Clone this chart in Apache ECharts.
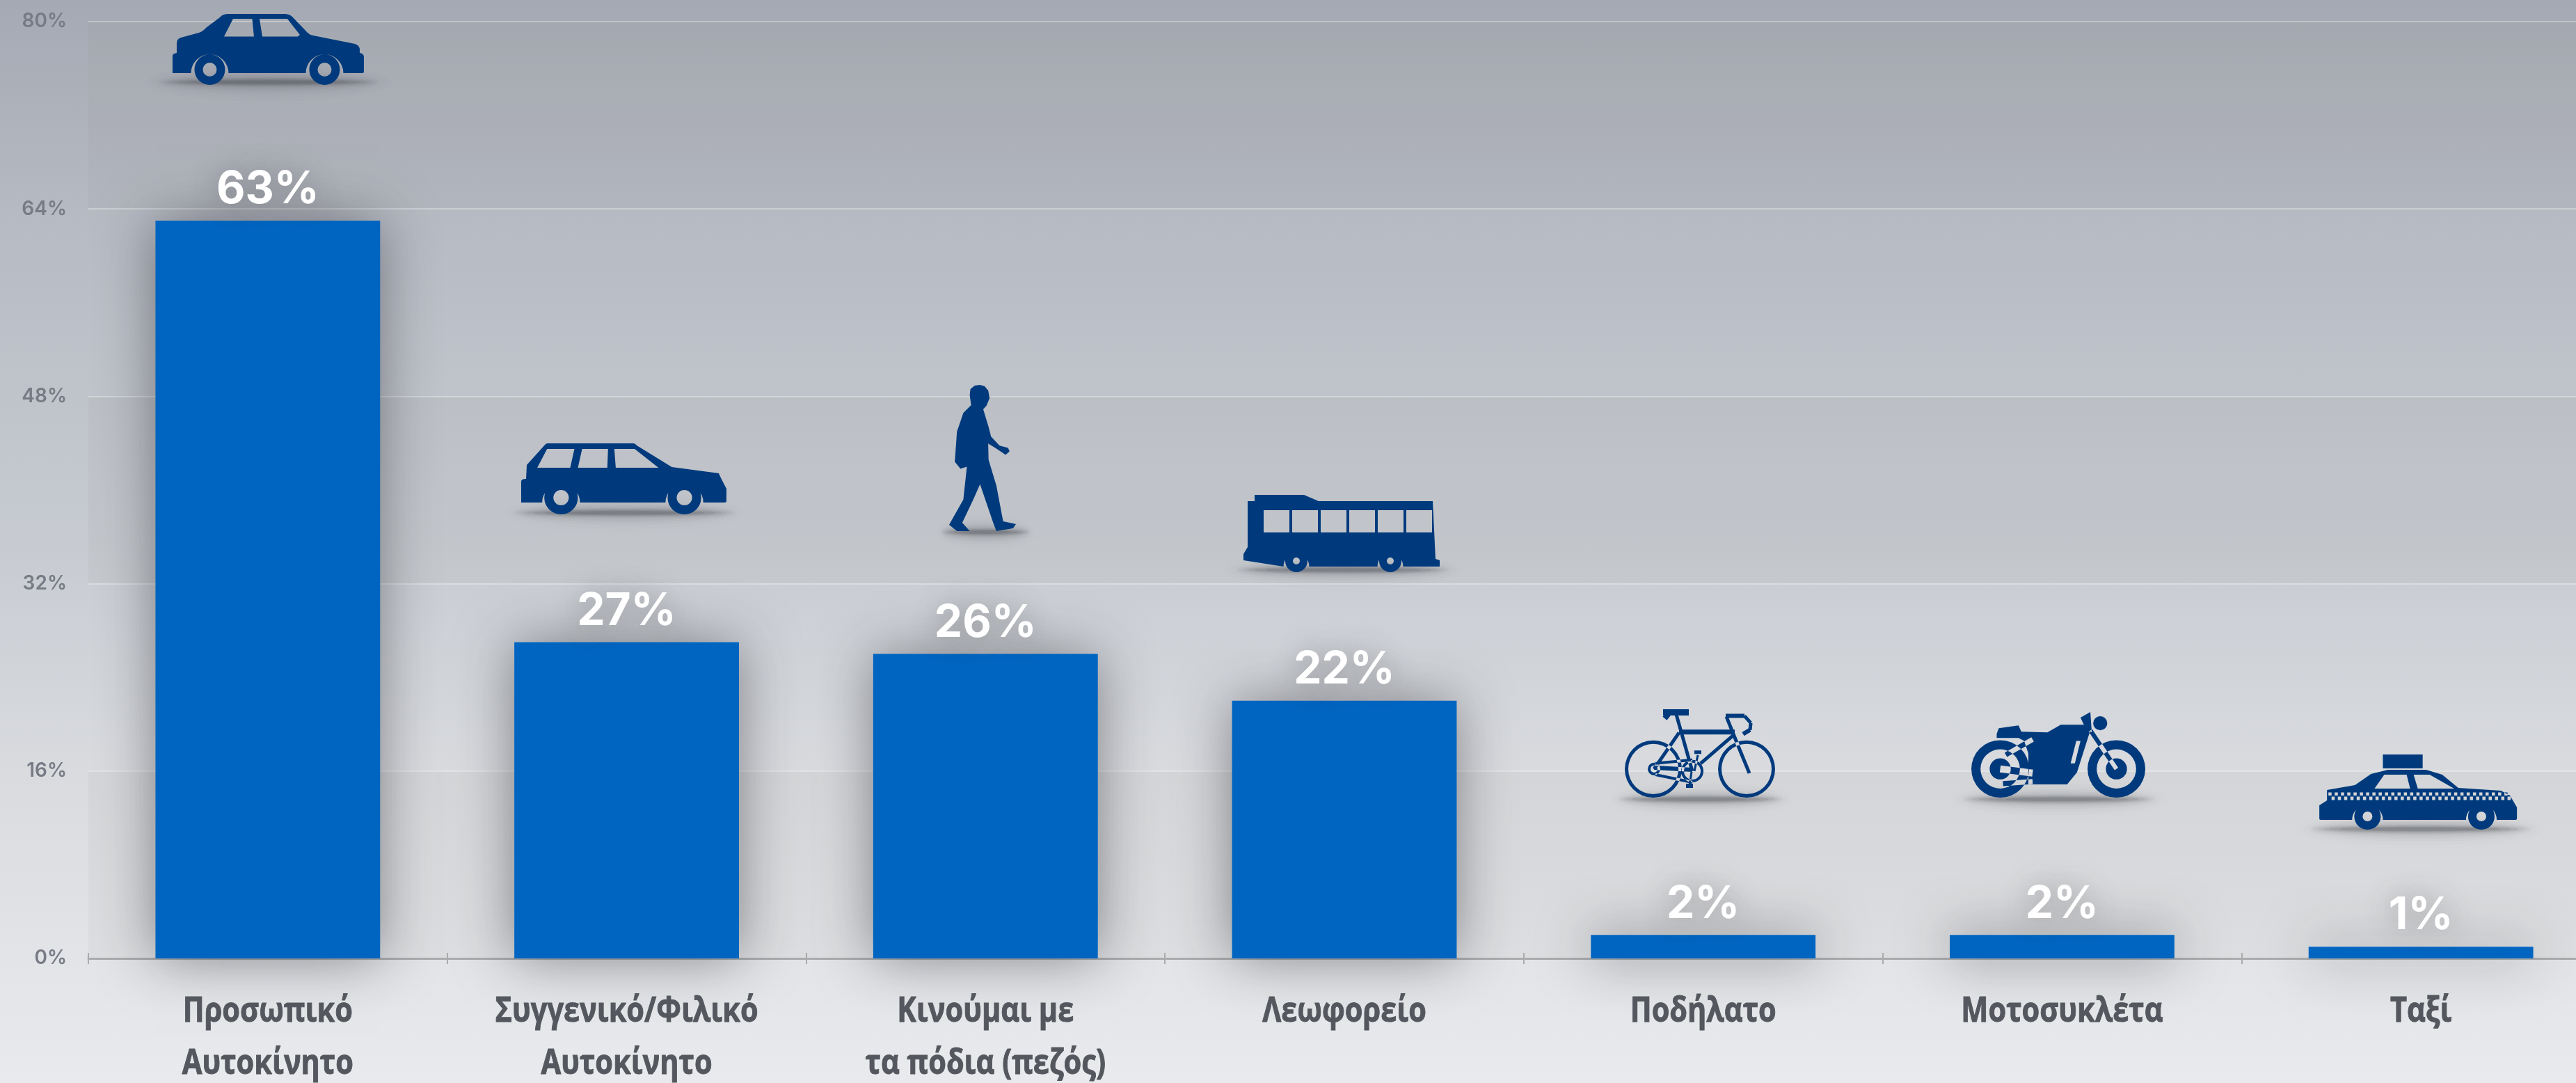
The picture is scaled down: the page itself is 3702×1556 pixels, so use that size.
<!DOCTYPE html>
<html><head><meta charset="utf-8">
<style>html,body{margin:0;padding:0;width:3702px;height:1556px;overflow:hidden}
#c{width:3702px;height:1556px;background:linear-gradient(180deg,#a5a9b3 0%,#b6bac3 20%,#c7cbd1 50%,#d8dade 70%,#e9eaed 100%)}</style>
<script src="https://cdn.jsdelivr.net/npm/echarts@6/dist/echarts.min.js"></script>
</head><body><div id="c"></div>
<script>
const categories = ['Προσωπικό\nΑυτοκίνητο','Συγγενικό/Φιλικό\nΑυτοκίνητο','Κινούμαι με\nτα πόδια (πεζός)','Λεωφορείο','Ποδήλατο','Μοτοσυκλέτα','Ταξί'];
const shares = [63,27,26,22,2,2,1];
const yTicks = {min:0,max:80,interval:16};

// --- shape helpers (icon outlines only, in local units)
const r2 = n => Math.round(n*100)/100;
const poly = pts => 'M'+pts.map(p=>r2(p[0])+' '+r2(p[1])).join(' L')+' Z ';
const disc = (x,y,r) => `M${r2(x-r)} ${y} A${r} ${r} 0 1 1 ${r2(x+r)} ${y} A${r} ${r} 0 1 1 ${r2(x-r)} ${y} Z `;
const hole = (x,y,r) => `M${r2(x-r)} ${y} A${r} ${r} 0 1 0 ${r2(x+r)} ${y} A${r} ${r} 0 1 0 ${r2(x-r)} ${y} Z `;
const ring = (x,y,R,r) => disc(x,y,R)+hole(x,y,r);
const bar = (x1,y1,x2,y2,w) => { const L=Math.hypot(x2-x1,y2-y1),nx=(y2-y1)/L*w/2,ny=-(x2-x1)/L*w/2;
  return poly([[x1-nx,y1-ny],[x2-nx,y2-ny],[x2+nx,y2+ny],[x1+nx,y1+ny]]); };
const win = pts => poly(pts);

const sedan = 'M0 85 L0 60 Q0 57 6 56 L6 42 Q6 36 12 34 L38 27 Q44 25 48 20 L68 5 Q72 0 80 0 L160 0 Q168 0 172 4 L194 27 Q197 30 202 31 L262 43 Q268 45 269 50 L269 56 Q275 57 275 62 L275 83 Q275 85 272 85 L245.5 85 A27 27 0 0 0 191.5 85 L80.5 85 A27 27 0 0 0 26.5 85 Z '
 + win([[87,7],[74,32.5],[117,32.5],[114.5,7]]) + win([[125,7],[129,32.5],[180,32.5],[183,30],[165,7]])
 + ring(53.5,80,22,10) + ring(218.5,80,22,10);

const wagon = 'M0 85 L0 55 Q0 51 7 51 L8 31 L34 2 Q35 0 38 0 L160 0 Q163 0 165 3 L215 34 L282 43 Q285 50 293 65 L293 83 Q293 85 289 85 L260 85 A27 27 0 0 0 206 85 L84 85 A27 27 0 0 0 30 85 L3 85 Z '
 + win([[37,8],[23,35],[70,35],[76,8]]) + win([[87,8],[81,35],[123,35],[124,8]]) + win([[133,8],[135,35],[196,35],[162,8]])
 + ring(57,78,24,11) + ring(233,78,24,11);

const walker = poly([[36,1],[43.5,0],[50,2],[55,8],[57,19],[52.5,30],[48,35],[55.5,60],[59,74],[71,87],[83,90],[85,95],[79.5,100],[66.5,91],[55,84],[55.5,107],[66.5,144],[76,195],[94,199],[90,205],[66.5,209],[62,197],[43.5,142],[34,164],[18.5,197],[29,209],[11,209],[0,200],[20,164],[25,117],[16,120],[8,110],[11,67],[20,40],[31,29],[29,15],[30,6]]);

let busWins=''; for(let i=0;i<6;i++){const x=29+i*41; busWins+=win([[x,22],[x,54],[x+37,54],[x+37,22]]);}
const bus = 'M0 94 L0 85 L6 75 L6 9 L16 9 L16 0 L87 0 L108 9 L272 9 L276 92 L282 94 L282 103 L229.5 103 A18.5 18.5 0 0 0 192.5 103 L94.5 103 A18.5 18.5 0 0 0 57.5 103 Z '
 + busWins + ring(76,95,16,5) + ring(211,95,16,5);

const bike = ring(41,86,41,36)+ring(175,86,41,36)
 + bar(55,5,92,5,9)+bar(57,8,63,13,8)
 + bar(74,8,97,89,5)+bar(78,33,158,33,7)+bar(158,36,109,78,5)+bar(78,34,42,86,5)
 + bar(146,11,165,58,5)+bar(165,58,179,92,5)
 + bar(145,10,172,10,6)+bar(172,10,181,20,5)+bar(181,20,180,30,5)+bar(180,30,170,36,6)
 + ring(97,89,16,12)+ring(42,86,9,5)
 + bar(44,78,97,73,4)+bar(44,94,97,105,4)+bar(42,84,97,87,6)
 + bar(100,89,105,66,3)+bar(100,62,110,62,5)+bar(96,90,93,109,3)+bar(88,110,98,110,6);

const moto = ring(44,82,41,28)+disc(44,82,15)+ring(209,82,41,28)+disc(209,82,15)
 + poly([[39,32],[42,24],[70,20],[74,29],[111,30],[130,19],[162,19],[172,27],[153,87],[139,104],[84,104],[84,60],[78,42],[70,38],[39,38]])
 + poly([[152,42],[144,74],[150,74],[158,42]])
 + bar(172,27,209,82,6)+bar(44,82,90,88,10)+bar(52,62,90,40,7)+bar(48,103,90,100,7)
 + poly([[158,9],[172,1],[174,30],[166,26]])+disc(186,17,10);

let checks=''; for(let i=0;i<29;i++){const x=13+i*9; checks+=win([[x,54.5],[x,59],[x+4.5,59],[x+4.5,54.5]]); checks+=win([[x+4.5,60.5],[x+4.5,65.5],[x+9,65.5],[x+9,60.5]]);}
const taxi = poly([[91,0],[148,0],[148,20],[91,20]])
 + 'M0 94 L0 73 L11 66 L11 51 L51 44 L74 28 L98 22 L153 22 L176 29 L199 48 L260 52 L273 59 L283 76 L283 92 Q283 94 280 94 L254 94 A22 22 0 0 0 210 94 L91 94 A22 22 0 0 0 47 94 L3 94 Q0 94 0 92 Z '
 + win([[93,29],[79,49],[130,49],[125,29]]) + win([[135,29],[141,49],[193,49],[158,29]])
 + checks + ring(69,89,19,7) + ring(232,89,19,7);

const icons = [
 {d:sedan, size:[275,102], off:[0.6,-246],    sh:{w:320,off:[1,-199]}},
 {d:wagon, size:[295,102], off:[-4.1,-234.7], sh:{w:320,off:[-3,-186]}},
 {d:walker,size:[96,210],  off:[-4.3,-281.6], sh:{w:130,off:[0,-175]}},
 {d:bus,   size:[282,111], off:[-4,-240.4],   sh:{w:310,off:[-2,-188]}},
 {d:bike,  size:[216,127], off:[-4.7,-260.8], sh:{w:240,off:[-4,-195]}},
 {d:moto,  size:[250,123], off:[-5.4,-258.8], sh:{w:280,off:[-5,-195]}},
 {d:taxi,  size:[284,108], off:[-4,-222.2],   sh:{w:320,off:[-1,-169]}}
];
// soft ground shadow: nested translucent ellipses [width factor, height, opacity]
const softLayers = [[1.1,56,.012],[1.05,46,.015],[1,36,.02],[.98,28,.03],[.95,22,.04],[.92,17,.06],[.88,13,.08],[.82,10,.1],[.72,7,.12],[.55,5,.12]];

const chart = echarts.init(document.getElementById('c'),null,{renderer:'canvas'});
const band = 'rgba(118,122,105,0.05)';
chart.setOption({
 animation:false,
 backgroundColor:'transparent',
 grid:{left:127,top:31,width:3610,height:1346,containLabel:false,outerBoundsMode:'none'},
 xAxis:[
  {type:'category',data:categories,position:'bottom',
   axisLine:{lineStyle:{color:'#a9abad',width:3}},
   axisTick:{show:true,length:8,lineStyle:{color:'#a9abad',width:2}},
   axisLabel:{show:false},splitLine:{show:false}},
  {type:'category',data:categories,position:'bottom',
   axisLine:{show:false},
   axisTick:{show:true,inside:true,length:8,lineStyle:{color:'#a9abad',width:2}},
   axisLabel:{show:false},splitLine:{show:false}}
 ],
 yAxis:{type:'value',min:yTicks.min,max:yTicks.max,interval:yTicks.interval,
   axisLine:{show:false},axisTick:{show:false},
   axisLabel:{margin:31,formatter:'{value}%',color:'#777b85',fontFamily:'Inter,sans-serif',fontWeight:600,fontSize:28},
   splitLine:{lineStyle:{color:'rgba(255,255,255,0.42)',width:1.5}},
   splitArea:{show:true,areaStyle:{color:[band,'rgba(0,0,0,0)']}}},
 series:[
  {type:'bar',name:'share',data:shares,barWidth:'62.6%',z:3,silent:true,
   itemStyle:{color:'#0065c1',shadowBlur:75,shadowColor:'rgba(40,40,45,0.5)'},
   label:{show:true,position:'top',distance:12,formatter:'{c}%',color:'#ffffff',fontFamily:'Inter,sans-serif',fontWeight:700,fontSize:64,
     textShadowBlur:40,textShadowColor:'rgba(60,60,65,0.45)'}},
  {type:'scatter',name:'shadow',z:4,silent:true,
   data:shares.flatMap((v,i)=>softLayers.map(l=>({value:[i,v],symbol:'circle',symbolSize:[icons[i].sh.w*l[0],l[1]],symbolOffset:icons[i].sh.off,itemStyle:{opacity:l[2]}}))),
   itemStyle:{color:'rgb(45,47,55)'}},
  {type:'scatter',name:'icon',z:5,silent:true,
   data:shares.map((v,i)=>({value:[i,v],symbol:'path://'+icons[i].d,symbolSize:icons[i].size,symbolOffset:icons[i].off})),
   itemStyle:{color:'#003a7c',opacity:1}},
  {type:'custom',name:'categoryLabels',z:6,silent:true,clip:false,
   data:categories.map((c,i)=>[i,0]),
   encode:{x:0,y:1},
   renderItem:(p,api)=>{const pt=api.coord([api.value(0),api.value(1)]);
     return {type:'text',x:pt[0],y:pt[1]+39,scaleX:0.83,
       style:{text:categories[p.dataIndex],align:'center',verticalAlign:'top',lineHeight:75,
              fill:'#54585e',stroke:'#54585e',lineWidth:1,font:'bold 50px "Open Sans","Noto Sans",sans-serif'}};}}
 ]
});
</script></body></html>
